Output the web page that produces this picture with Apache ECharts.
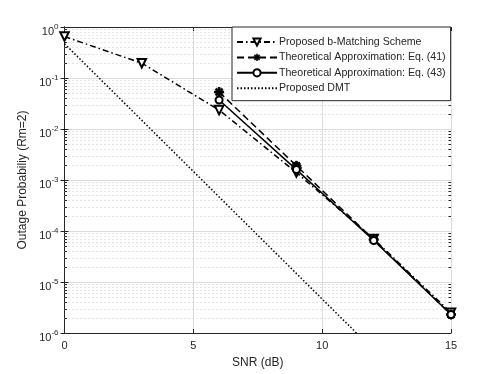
<!DOCTYPE html>
<html><head><meta charset="utf-8">
<script src="https://cdn.jsdelivr.net/npm/echarts@6/dist/echarts.min.js"></script>
<style>html,body{margin:0;padding:0;background:#fff}#c{width:498px;height:374px}</style>
</head><body><div id="c"></div>
<script>
const snr = [0, 3, 6, 9, 12, 15];
const bMatching = [0.65, 0.195, 0.0235, 1.4e-3, 7e-5, 2.5e-6];
const theoSnr = [6, 9, 12, 15];
const eq41 = [0.053, 1.9e-3, 6.8e-5, 2.3e-6];
const eq43 = [0.037, 1.6e-3, 6.5e-5, 2.3e-6];
const dmtSnr = [0, 11.33];
const dmt = [0.47, 1e-6];
const xTicks = [0, 5, 10, 15];
const yExponents = [0, -1, -2, -3, -4, -5, -6];
const minorMantissas = [2, 3, 4, 5, 6, 7, 8, 9];

const names = ['Proposed b-Matching Scheme', 'Theoretical Approximation: Eq. (41)', 'Theoretical Approximation: Eq. (43)', 'Proposed DMT'];
const pair = (xs, ys) => xs.map((x, i) => [x, ys[i]]);
const minorVals = [];
yExponents.slice(1).forEach(e => minorMantissas.forEach(m => minorVals.push([0, m * Math.pow(10, e)])));

const asterisk = 'path://M-1.3,-6L1.3,-6L1.3,6L-1.3,6Z M-6,-1.3L6,-1.3L6,1.3L-6,1.3Z M-5.2,-3.4L-3.4,-5.2L5.2,3.4L3.4,5.2Z M3.4,-5.2L5.2,-3.4L-3.4,5.2L-5.2,3.4Z';

const txt = '#262626';
const chart = echarts.init(document.getElementById('c'));
const supLabel = v => {
  const e = Math.round(Math.log10(v));
  return '{b|10}{s|' + e + '}';
};
const rich = {
  b: {fontSize: 11, color: txt, fontFamily: 'Liberation Sans', lineHeight: 12, verticalAlign: 'bottom'},
  s: {fontSize: 8, color: txt, fontFamily: 'Liberation Sans', lineHeight: 8, padding: [0, 0, 6, 0], verticalAlign: 'bottom'}
};
chart.setOption({
  animation: false,
  backgroundColor: '#fff',
  grid: {left: 64.5, right: 47, top: 27, bottom: 41},
  legend: {
    orient: 'vertical', left: 232, top: 27,
    padding: [9.5, 5, 7, 4], itemGap: 4.4, itemWidth: 40, itemHeight: 9,
    backgroundColor: '#fff', borderColor: '#262626', borderWidth: 1, borderRadius: 0,
    textStyle: {fontSize: 10.6, color: txt, fontFamily: 'Liberation Sans', padding: [0, 0, 0, -3]},
    data: [names[0], names[1], names[2], {name: names[3], itemStyle: {opacity: 0}}]
  },
  xAxis: [{
    type: 'value', min: 0, max: 15, interval: 5,
    name: 'SNR (dB)', nameLocation: 'middle', nameGap: 24,
    nameTextStyle: {fontSize: 12, color: txt, fontFamily: 'Liberation Sans'},
    axisLine: {lineStyle: {color: txt, width: 1}},
    axisTick: {inside: true, length: 4, lineStyle: {color: txt}},
    axisLabel: {fontSize: 11, color: txt, fontFamily: 'Liberation Sans', margin: 7},
    splitLine: {show: true, lineStyle: {color: '#dcdcdc', width: 1}}
  }, {
    type: 'value', min: 0, max: 15, interval: 5, position: 'top',
    axisLine: {show: true, lineStyle: {color: txt, width: 1}},
    axisTick: {inside: true, length: 4, lineStyle: {color: txt}},
    axisLabel: {show: false}, splitLine: {show: false}
  }],
  yAxis: [{
    type: 'log', logBase: 10, min: 1e-6, max: 1,
    name: 'Outage Probabiliy (Rm=2)', nameLocation: 'middle', nameGap: 31,
    nameTextStyle: {fontSize: 12, color: txt, fontFamily: 'Liberation Sans'},
    axisLine: {show: true, lineStyle: {color: txt, width: 1}},
    axisTick: {inside: true, length: 4, lineStyle: {color: txt}},
    axisLabel: {formatter: supLabel, rich: rich, margin: 6, padding: [8, 0, 0, 0]},
    splitLine: {show: true, lineStyle: {color: '#dcdcdc', width: 1}}
  }, {
    type: 'log', logBase: 10, min: 1e-6, max: 1, position: 'right',
    axisLine: {show: true, lineStyle: {color: txt, width: 1}},
    axisTick: {inside: true, length: 4, lineStyle: {color: txt}},
    axisLabel: {show: false}, splitLine: {show: false}
  }],
  series: [{
    type: 'custom', silent: true, z: 1, data: minorVals, legendHoverLink: false,
    renderItem: (params, api) => {
      const cs = params.coordSys;
      const y = Math.round(api.coord([0, api.value(1)])[1]) + 0.5;
      return {type: 'group', children: [
        {type: 'line', shape: {x1: cs.x, y1: y, x2: cs.x + cs.width, y2: y}, style: {stroke: '#c8c8c8', lineWidth: 1, lineDash: [1, 3]}},
        {type: 'line', shape: {x1: cs.x, y1: y, x2: cs.x + 2.5, y2: y}, style: {stroke: txt, lineWidth: 1}},
        {type: 'line', shape: {x1: cs.x + cs.width - 2.5, y1: y, x2: cs.x + cs.width, y2: y}, style: {stroke: txt, lineWidth: 1}}
      ]};
    }
  }, {
    name: names[0], type: 'line', data: pair(snr, bMatching), z: 5,
    symbol: 'emptyTriangle', symbolRotate: 180, symbolSize: 8.5,
    lineStyle: {color: '#000', width: 1.5, type: [6, 3, 1.5, 3]},
    itemStyle: {color: '#000', borderColor: '#000', borderWidth: 1.2}
  }, {
    name: names[1], type: 'line', data: pair(theoSnr, eq41), z: 5,
    symbol: asterisk, symbolSize: 9,
    lineStyle: {color: '#000', width: 1.5, type: [7, 4]},
    itemStyle: {color: '#000', borderColor: '#000'}
  }, {
    name: names[2], type: 'line', data: pair(theoSnr, eq43), z: 5,
    symbol: 'emptyCircle', symbolSize: 7,
    lineStyle: {color: '#000', width: 1.5, type: 'solid'},
    itemStyle: {color: '#000', borderColor: '#000', borderWidth: 1.2}
  }, {
    name: names[3], type: 'line', data: pair(dmtSnr, dmt), z: 5,
    symbol: 'none', clip: true,
    lineStyle: {color: '#000', width: 1.5, type: [1.5, 2]},
    itemStyle: {color: '#000'}
  }]
});
</script></body></html>
